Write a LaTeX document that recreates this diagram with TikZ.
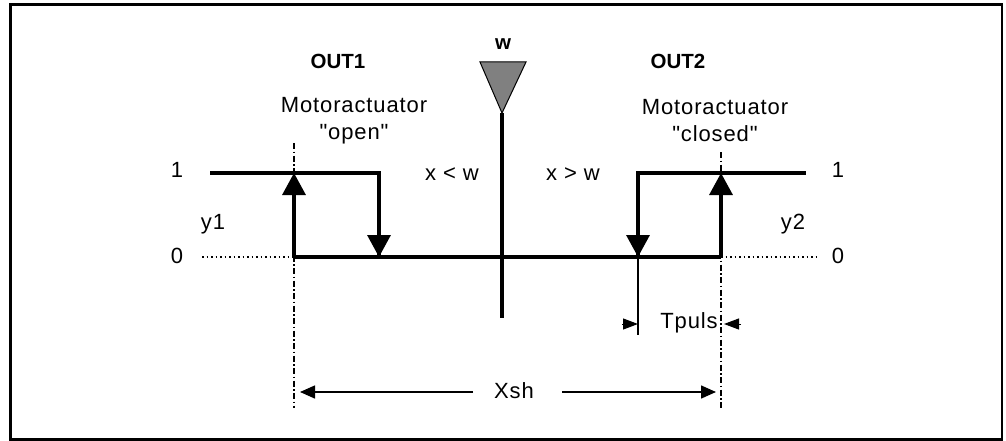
\documentclass[tikz,border=0pt]{standalone}
\usepackage{fontspec}
\setmainfont{Liberation Sans}[Ligatures=TeXOff]
\newfontfamily\spacedf{Liberation Sans}[Ligatures=TeXOff,LetterSpace=4]
\usetikzlibrary{arrows.meta}
\begin{document}
\begin{tikzpicture}[x=1pt,y=-1pt,
  txt/.style={font=\spacedf\fontsize{22}{27}\selectfont,inner sep=0pt,align=center},
  btxt/.style={font=\fontsize{20.5}{27}\selectfont\bfseries,inner sep=0pt},
  sig/.style={line width=3.3pt},
  bigarrow/.style={line width=3.3pt,-{Triangle[width=23pt,length=22pt]}},
  dotline/.style={line width=1.2pt,dash pattern=on 1.5pt off 3pt},
  dashdot/.style={line width=1.2pt,dash pattern=on 6pt off 2.5pt on 1.5pt off 2.5pt},
  thin/.style={line width=1.3pt},
  dimarrow/.style={line width=1.5pt,-{Triangle[width=13pt,length=15pt]}},
  pulsarrow/.style={line width=1pt,-{Triangle[width=11pt,length=15pt]}}]
\useasboundingbox (0,0) rectangle (1006,441);
\draw[line width=2.6pt] (10.7,4.3) rectangle (1002,439.7);
% coordinates
\coordinate (hL) at (210,173);
\coordinate (upL1) at (294,173);
\coordinate (upL0) at (294,257);
\coordinate (dnL1) at (379,173);
\coordinate (dnL0) at (379,257);
\coordinate (mid0) at (502,257);
\coordinate (dnR1) at (638,173);
\coordinate (dnR0) at (638,257);
\coordinate (upR1) at (721,173);
\coordinate (upR0) at (721,257);
\coordinate (hR) at (806,173);
\coordinate (dotL) at (202,257);
\coordinate (dotR) at (816,257);
\coordinate (ddLt) at (294,143);
\coordinate (ddLb) at (294,408);
\coordinate (ddRt) at (721,152);
\coordinate (ddRb) at (721,408);
\coordinate (cTop) at (502,113);
\coordinate (cBot) at (502,318);
\coordinate (tpL) at (638,335);
\coordinate (tpArL) at (622,324);
\coordinate (tpArLe) at (638,324);
\coordinate (tpArR) at (741,324);
\coordinate (tpArRe) at (724,324);
\coordinate (xsLs) at (473,392);
\coordinate (xsLe) at (300,392);
\coordinate (xsRs) at (562,392);
\coordinate (xsRe) at (716,392);
% labels
\node[txt] (one1) at (177,170) {1};
\node[txt] (zero1) at (177,256) {0};
\node[txt] (one2) at (838,170) {1};
\node[txt] (zero2) at (838,256) {0};
\node[btxt] (w) at (503,44) {w};
\node[btxt] (out1) at (338,61) {OUT1};
\node[btxt] (out2) at (678,61) {OUT2};
\node[txt] (m1) at (354,121) {Motoractuator\\"open"};
\node[txt] (m2) at (715,121) {Motoractuator\\"closed"};
\node[txt] (xlw) at (452,174) {x {<} w};
\node[txt] (xgw) at (573,174) {x {>} w};
\node[txt] (y1) at (213,224) {y1};
\node[txt] (y2) at (793,224) {y2};
\node[txt] (tp) at (689,323) {Tpuls};
\node[txt] (xsh) at (514,391) {Xsh};
% dash-dot and dotted lines
\draw[dashdot] (ddLt) -- (ddLb);
\draw[dashdot] (ddRt) -- (ddRb);
\draw[dotline] (dotL) -- (upL0);
\draw[dotline] (upR0) -- (dotR);
% center
\draw[line width=3.5pt] (cTop) -- (cBot);
\draw[line width=1pt,fill=black!50] (480,62) -- (526,62) -- (cTop) -- cycle;
% signal y1
\draw[sig] (hL) -- (dnL1) -- (dnL0);
\draw[sig] (upL0) -- (upR0);
\draw[sig] (dnR0) -- (dnR1) -- (hR);
\draw[bigarrow] (upL0) -- (upL1);
\draw[bigarrow] (dnL1) -- (dnL0);
\draw[bigarrow] (dnR1) -- (dnR0);
\draw[bigarrow] (upR0) -- (upR1);
% Tpuls
\draw[thin] (dnR0) -- (tpL);
\draw[pulsarrow] (tpArL) -- (tpArLe);
\draw[pulsarrow] (tpArR) -- (tpArRe);
% Xsh
\draw[dimarrow] (xsLs) -- (xsLe);
\draw[dimarrow] (xsRs) -- (xsRe);
\end{tikzpicture}
\end{document}
